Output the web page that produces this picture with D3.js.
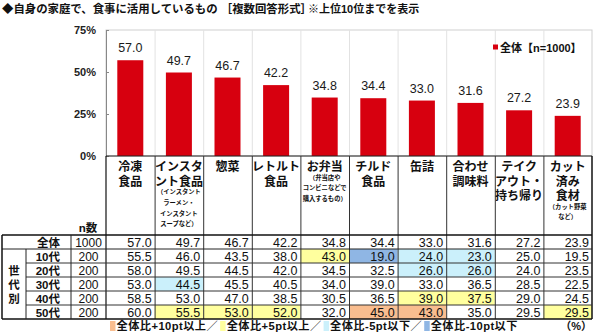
<!DOCTYPE html>
<html><head><meta charset="utf-8">
<script src="https://cdn.jsdelivr.net/npm/d3@7"></script>
<style>
body{margin:0;background:#fff;}
svg{display:block;}
text{font-family:'Liberation Sans','Noto Sans CJK JP',sans-serif;}
</style>
</head><body>
<svg id="chart" width="600" height="333"></svg>
<script>
// ---- data ----
const categories = ["冷凍食品","インスタント食品","惣菜","レトルト食品","お弁当","チルド食品","缶詰","合わせ調味料","テイクアウト・持ち帰り","カット済み食材"];
const headerMain = [["冷凍","食品"],["インスタ","ント食品"],["惣菜"],["レトルト","食品"],["お弁当"],["チルド","食品"],["缶詰"],["合わせ","調味料"],["テイク","アウト・","持ち帰り"],["カット","済み","食材"]];
const headerNote = [[],["（インスタント","ラーメン・","インスタント","スープなど）"],[],[],["（弁当店や","コンビニなどで","購入するもの）"],[],[],[],[],["（カット野菜","など）"]];
const totalLabel = "全体";
const totalN = 1000;
const totalValues = [57.0,49.7,46.7,42.2,34.8,34.4,33.0,31.6,27.2,23.9];
const groups = ["10代","20代","30代","40代","50代"];
const groupN = [200,200,200,200,200];
const groupValues = [
  [55.5,46.0,43.5,38.0,43.0,19.0,24.0,23.0,25.0,19.5],
  [58.0,49.5,44.5,42.0,34.5,32.5,26.0,26.0,24.0,23.5],
  [53.0,44.5,45.5,40.5,34.0,39.0,33.0,36.5,28.5,22.5],
  [58.5,53.0,47.0,38.5,30.5,36.5,39.0,37.5,29.0,24.5],
  [60.0,55.5,53.0,52.0,32.0,45.0,43.0,35.0,29.5,29.5]
];
const yTicks = [0,25,50,75];
const legendItems = ["全体比+10pt以上／","全体比+5pt以上／","全体比-5pt以下／","全体比-10pt以下"];

// ---- layout ----
const svg = d3.select("#chart");
const plotL = 106, plotR = 592, plotT = 30, plotB = 156;
const barW = 26;
const RED = "#d7000f";
const fillColors = ["#f9bd8f","#ffff9e","#cbf0fb","#8fb6e4"];

const x = d3.scaleBand().domain(categories).range([plotL, plotR]);
const y = d3.scaleLinear().domain([0,75]).range([plotB, plotT]);
const bw = x.bandwidth();

// title
svg.append("text").attr("x",2).attr("y",9).attr("dominant-baseline","central")
  .attr("font-size",11.4).attr("font-weight","bold").attr("fill","#111")
  .text("◆自身の家庭で、食事に活用しているもの ［複数回答形式］");
svg.append("text").attr("x",308).attr("y",9).attr("dominant-baseline","central")
  .attr("font-size",11).attr("font-weight","bold").attr("fill","#111")
  .text("※上位10位までを表示");

// plot frame + vertical gridlines
const g = svg.append("g");
g.append("rect").attr("x",plotL).attr("y",plotT).attr("width",plotR-plotL).attr("height",plotB-plotT)
  .attr("fill","none").attr("stroke","#cfcfcf");
categories.slice(1).forEach(c=>{
  g.append("line").attr("x1",x(c)+0.5).attr("x2",x(c)+0.5).attr("y1",plotT).attr("y2",plotB)
    .attr("stroke","#e2e2e2");
});

// y axis
const yAxis = d3.axisLeft(y).tickValues(yTicks).tickFormat(d=>d+"%").tickSize(-3).tickPadding(10);
const ya = g.append("g").attr("transform",`translate(${plotL},0)`).call(yAxis);
ya.select(".domain").attr("stroke","#888");
ya.selectAll(".tick line").attr("stroke","#888");
ya.selectAll(".tick text").attr("font-size",11).attr("font-weight","bold").attr("fill","#222")
  .attr("font-family","'Liberation Sans',sans-serif");

// bars
g.selectAll(".bar").data(categories).join("rect")
  .attr("x",(c)=>x(c)+(bw-barW)/2).attr("width",barW)
  .attr("y",(c,i)=>y(totalValues[i])).attr("height",(c,i)=>plotB-y(totalValues[i]))
  .attr("fill",RED);
g.selectAll(".lbl").data(categories).join("text")
  .attr("x",c=>x(c)+bw/2).attr("y",(c,i)=>y(totalValues[i])-12)
  .attr("text-anchor","middle").attr("dominant-baseline","central")
  .attr("font-size",12.5).attr("fill","#1a1a1a")
  .text((c,i)=>totalValues[i].toFixed(1));

// series legend
g.append("rect").attr("x",493).attr("y",44.5).attr("width",5).attr("height",5).attr("fill",RED);
g.append("text").attr("x",500).attr("y",47.5).attr("dominant-baseline","central")
  .attr("font-size",11).attr("font-weight","bold").attr("fill","#111").text("全体【n=1000】");

// ---- table ----
const t = svg.append("g");
const tblL = 2, col1 = 26, col2 = 71;
const headB = 235, rowH = 14;
const rowsY = d3.range(7).map(i=>headB + i*rowH);
const tblB = rowsY[6];

// cell fills
function fillIndex(v,tot){
  const d = Math.round((v-tot)*10)/10;
  if (d >= 10) return 0;
  if (d >= 5) return 1;
  if (d <= -10) return 3;
  if (d <= -5) return 2;
  return -1;
}
groupValues.forEach((row,r)=>{
  row.forEach((v,i)=>{
    const k = fillIndex(v,totalValues[i]);
    if (k>=0) t.append("rect").attr("x",x(categories[i])).attr("y",rowsY[r+1])
      .attr("width",bw).attr("height",rowH).attr("fill",fillColors[k]);
  });
});

// header text
categories.forEach((c,i)=>{
  const cx = x(c)+bw/2;
  let yy = 167;
  headerMain[i].forEach((s,j)=>{
    t.append("text").attr("x",cx).attr("y",167+j*14.5).attr("text-anchor","middle")
      .attr("dominant-baseline","central").attr("font-size",12).attr("font-weight","bold")
      .attr("fill","#111").text(s);
    yy = 167+j*14.5;
  });
  headerNote[i].forEach((s,j)=>{
    t.append("text").attr("x",cx).attr("y",yy+10+j*10.8).attr("text-anchor","middle")
      .attr("dominant-baseline","central").attr("font-size",6.3).attr("font-weight","bold")
      .attr("fill","#111").text(s);
  });
});
t.append("text").attr("x",88).attr("y",228).attr("text-anchor","middle").attr("dominant-baseline","central")
  .attr("font-size",11.5).attr("font-weight","bold").attr("fill","#111").text("n数");

// grid lines of the table
const line = (x1,y1,x2,y2,w,col)=>t.append("line").attr("x1",x1).attr("y1",y1).attr("x2",x2).attr("y2",y2)
  .attr("stroke",col||"#222").attr("stroke-width",w||1);
line(plotL,plotB,plotR,plotB,1.2,"#222");
categories.forEach((c,i)=>{ if(i>0) line(x(c)+0.5,plotB,x(c)+0.5,tblB,1,"#333"); });
line(plotL,plotB,plotL,tblB,1.2,"#111");
line(plotR,plotB,plotR,tblB,1.5,"#111");
line(tblL,headB,plotR,headB,1.5,"#111");
line(tblL,rowsY[1],plotR,rowsY[1],1,"#222");
for (let r=2;r<6;r++) line(col1,rowsY[r],plotR,rowsY[r],1,"#333");
line(tblL,tblB,plotR,tblB,1.5,"#111");
line(tblL,headB,tblL,tblB,1.5,"#111");
line(col1,rowsY[1],col1,tblB,1,"#222");
line(col2,headB,col2,tblB,1,"#222");

// row labels and values
function rowText(r,label,n,vals){
  const cy = rowsY[r]+rowH/2+0.5;
  t.append("text").attr("x",60).attr("y",cy).attr("text-anchor","end").attr("dominant-baseline","central")
    .attr("font-size",11.5).attr("font-weight","bold").attr("fill","#111").text(label);
  t.append("text").attr("x",(col2+plotL)/2).attr("y",cy).attr("text-anchor","middle").attr("dominant-baseline","central")
    .attr("font-size",12).attr("fill","#111").text(n);
  vals.forEach((v,i)=>{
    t.append("text").attr("x",x(categories[i])+bw-3).attr("y",cy).attr("text-anchor","end")
      .attr("dominant-baseline","central").attr("font-size",12.5).attr("fill","#111").text(v.toFixed(1));
  });
}
rowText(0,totalLabel,totalN,totalValues);
groups.forEach((gname,r)=>rowText(r+1,gname,groupN[r],groupValues[r]));
["世","代","別"].forEach((s,j)=>{
  t.append("text").attr("x",14).attr("y",rowsY[2]+rowH/2+j*rowH+0.5).attr("text-anchor","middle")
    .attr("dominant-baseline","central").attr("font-size",11.5).attr("font-weight","bold").attr("fill","#111").text(s);
});

// colour legend under the table
let lx = 110;
const ly = 326;
legendItems.forEach((s,k)=>{
  t.append("rect").attr("x",lx).attr("y",ly-5).attr("width",5.5).attr("height",10).attr("fill",fillColors[k]);
  const tx = t.append("text").attr("x",lx+6.5).attr("y",ly).attr("dominant-baseline","central")
    .attr("font-size",11.2).attr("font-weight","bold").attr("letter-spacing",0.45).attr("fill","#111").text(s);
  lx = lx + 6.5 + tx.node().getComputedTextLength() + 2;
});
t.append("text").attr("x",592).attr("y",ly).attr("text-anchor","end").attr("dominant-baseline","central")
  .attr("font-size",11).attr("font-weight","bold").attr("fill","#111").text("（%）");
</script>
</body></html>
